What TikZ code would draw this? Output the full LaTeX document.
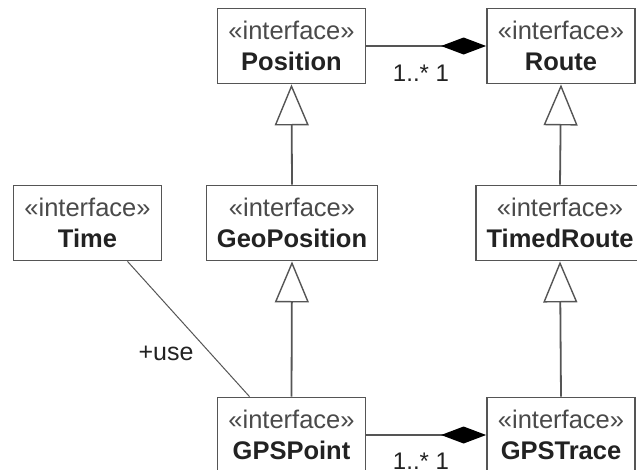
\documentclass[tikz,border=0pt]{standalone}
\usepackage{fontspec}
\setmainfont{Liberation Sans}
\usetikzlibrary{arrows.meta}
\definecolor{edge}{HTML}{555555}
\definecolor{stereo}{HTML}{4A4A4A}
\definecolor{txt}{HTML}{222222}
\newcommand{\ifc}[1]{{\color{stereo}«interface»}\\\textbf{#1}}
\begin{document}
\begin{tikzpicture}[x=1pt,y=-1pt,
  iface/.style={draw=edge, line width=1.8pt, fill=white, minimum width=148pt,
    minimum height=75pt, align=center, inner sep=0pt,
    font=\fontsize{25.5}{31}\selectfont, text=txt},
  gen/.style={draw=edge, line width=1.8pt,
    -{Triangle[open, length=41pt, width=34pt, line width=1.4pt, fill=white]}},
  comp/.style={draw=edge, line width=1.8pt,
    -{Diamond[length=45pt, width=17pt, fill=black, color=black]}},
  lbl/.style={font=\fontsize{24}{28}\selectfont, text=txt}]
\useasboundingbox (0,0) rectangle (637,469);
\node[iface] (pos) at (291.5,46) {\ifc{Position}};
\node[iface] (route) at (561,46) {\ifc{Route}};
\node[iface] (time) at (87.5,223) {\ifc{Time}};
\node[iface, minimum width=171pt] (geo) at (292,223) {\ifc{GeoPosition}};
\node[iface, minimum width=168pt] (timed) at (560,223) {\ifc{TimedRoute}};
\node[iface] (gpsp) at (291.5,435) {\ifc{GPSPoint}};
\node[iface] (gpst) at (561,435) {\ifc{GPSTrace}};
% generalizations
\draw[gen] (geo.north) -- (pos.south);
\draw[gen] (gpsp.north) -- (geo.south);
\draw[gen] (timed.north) -- (route.south);
\draw[gen] (gpst.north) -- (timed.south);
% compositions
\draw[comp] (pos.east) -- (route.west);
\draw[comp] (gpsp.east) -- (gpst.west);
\node[lbl] (m1) at (421,73) {1..* 1};
\node[lbl] (m2) at (421,461) {1..* 1};
% association
\draw[edge, line width=1pt] ([xshift=40pt]time.south) -- ([xshift=-42pt]gpsp.north);
\node[lbl, font=\fontsize{25}{28}\selectfont] (use) at (166,353) {+use};
\end{tikzpicture}
\end{document}
